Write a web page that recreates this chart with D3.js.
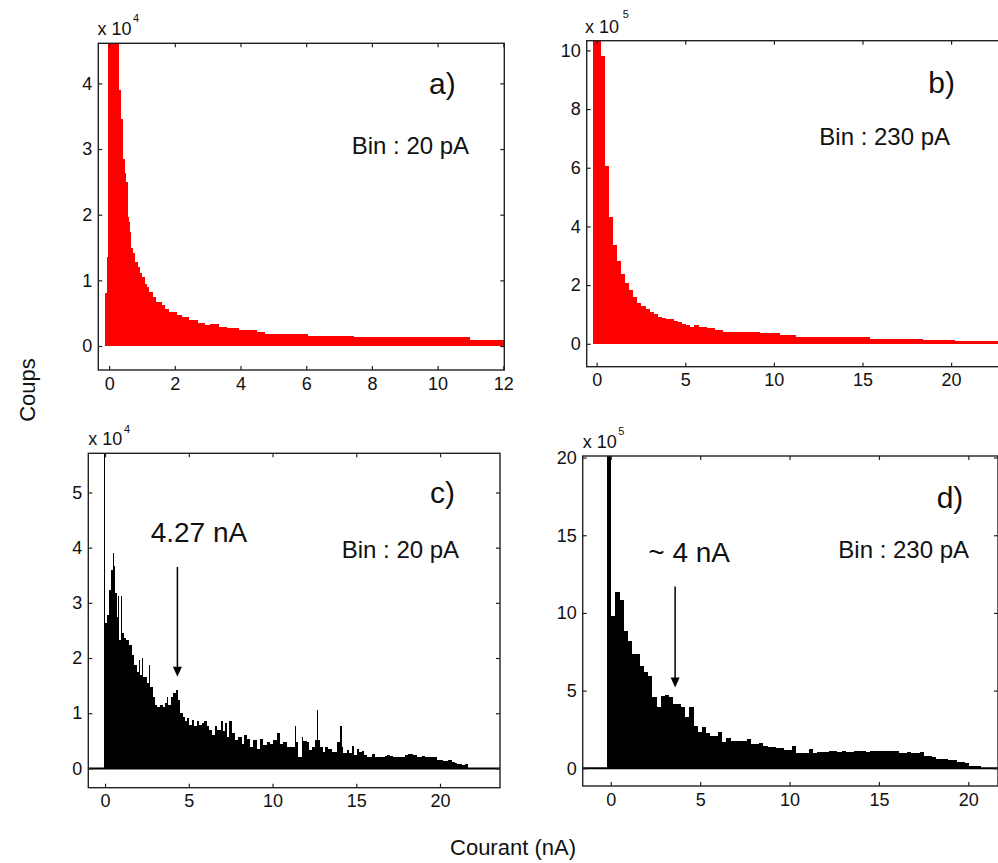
<!DOCTYPE html>
<html><head><meta charset="utf-8">
<script src="https://cdn.jsdelivr.net/npm/d3@7"></script>
<style>
body{margin:0;background:#fff}
text{font-family:"Liberation Sans",Arial,sans-serif;fill:#111}
</style>
</head><body>
<script>
// ---------------- DATA ----------------
// Panel a : bin 20 pA (counts x 1e4), read as steps (edges in nA)
const aEdges = [-0.14,-0.07,-0.04,0.30,0.36,0.41,0.47,0.51,0.56,0.59,0.64,0.67,0.72,0.79,0.87,0.94,1.00,1.08,1.15,1.22,1.35,1.43,1.60,1.70,1.83,2.06,2.21,2.42,2.72,2.92,3.08,3.33,3.58,3.94,4.50,4.75,6.05,7.45,11.0,12.1];
const aCounts = [0.80,1.36,6.0,3.90,3.45,2.85,2.63,2.50,1.97,1.89,1.74,1.49,1.41,1.28,1.21,1.11,1.05,0.95,0.90,0.83,0.75,0.67,0.62,0.57,0.52,0.47,0.44,0.40,0.35,0.32,0.33,0.29,0.27,0.24,0.21,0.18,0.157,0.13,0.09];

// Panel b : bin 230 pA (counts x 1e5)
const bStart = -0.23, bWidth = 0.23;
const bCounts = [12,12,9.8,6.05,4.32,3.37,2.81,2.37,2.08,1.83,
 1.59,1.40,1.28,1.19,1.09,1.00,0.92,0.87,0.85,0.85,
 0.78,0.75,0.69,0.65,0.58,0.64,0.58,0.58,0.53,0.53,
 0.48,0.48,0.41,0.41,0.41,0.41,0.41,0.41,0.41,0.41,
 0.41,0.36,0.36,0.36,0.36,0.36,0.31,0.31,0.31,0.31,
 0.24,0.24,0.24,0.24,0.24,0.24,0.24,0.24,0.24,0.24,
 0.24,0.24,0.24,0.24,0.24,0.24,0.24,0.24,0.18,0.18,
 0.18,0.18,0.18,0.18,0.18,0.18,0.18,0.18,0.18,0.18,
 0.18,0.14,0.14,0.14,0.14,0.14,0.14,0.14,0.14,0.08,
 0.08,0.08,0.08,0.08,0.08,0.08,0.08,0.08,0.08,0.08,
 0.08,0.08,0.08,0.08,0.08,0.08];

// Panel c : bin 20 pA (counts x 1e4), left edges in nA
const cLeft = [-0.06,0.02,0.10,0.26,0.36,0.46,0.54,0.62,0.70,0.80,
 0.86,0.94,1.01,1.13,1.25,1.45,1.59,1.73,1.89,2.01,
 2.09,2.21,2.29,2.49,2.61,2.69,2.85,2.99,3.12,3.28,
 3.44,3.58,3.68,3.78,3.92,4.08,4.24,4.38,4.48,4.64,
 4.78,4.92,5.03,5.17,5.31,5.47,5.63,5.77,5.91,6.07,
 6.23,6.37,6.57,6.71,6.91,7.02,7.16,7.30,7.42,7.58,
 7.76,7.96,8.16,8.30,8.46,8.66,8.86,9.05,9.25,9.45,
 9.65,9.85,10.05,10.25,10.45,10.65,10.85,11.04,11.34,11.40,
 11.54,11.74,11.84,12.04,12.20,12.34,12.54,12.64,12.74,12.84,
 13.00,13.13,13.33,13.53,13.83,14.03,14.13,14.23,14.43,14.59,
 14.73,14.86,15.02,15.18,15.32,15.46,15.62,15.92,16.12,16.72,
 16.82,17.02,17.21,17.91,18.11,18.41,18.61,18.91,19.10,19.70,
 19.80,20.20,20.50,20.70,20.89,20.99,21.29,21.49];
const cEnd = 21.69;
const cCounts = [8,2.63,2.78,3.24,3.60,3.91,3.66,3.18,2.75,3.12,
 2.33,3.12,2.45,2.36,2.33,2.24,2.06,1.88,1.75,1.97,
 1.69,2.00,1.66,1.54,1.88,1.48,1.30,1.15,1.12,1.15,
 1.12,1.18,1.30,1.15,1.30,1.36,1.42,1.24,1.00,0.94,
 0.85,0.91,0.79,0.88,0.76,0.85,0.79,0.83,0.85,0.76,
 0.70,0.60,0.76,0.70,0.85,0.67,0.83,0.57,0.85,0.64,
 0.51,0.57,0.45,0.60,0.54,0.39,0.51,0.36,0.54,0.42,
 0.48,0.45,0.51,0.64,0.45,0.48,0.39,0.39,0.77,0.48,
 0.21,0.57,0.50,0.48,0.33,0.39,0.51,1.06,0.51,0.39,
 0.30,0.38,0.36,0.30,0.47,0.77,0.39,0.27,0.33,0.27,
 0.41,0.24,0.36,0.30,0.32,0.24,0.21,0.26,0.20,0.22,
 0.24,0.22,0.20,0.24,0.26,0.24,0.21,0.23,0.21,0.20,
 0.15,0.13,0.15,0.12,0.09,0.08,0.06,0.08];

// Panel d : bin 230 pA (counts x 1e5)
const dStart = -0.2, dWidth = 0.23;
const dCounts = [25,9.81,11.37,10.84,8.84,8.22,7.34,7.34,6.59,6.22,
 5.94,4.61,3.97,4.66,4.72,4.61,4.12,4.12,3.93,3.33,
 3.97,2.73,2.36,2.68,2.30,2.08,2.08,2.36,1.72,1.97,
 1.76,1.76,1.76,1.76,1.87,1.55,1.55,1.61,1.44,1.35,
 1.35,1.33,1.33,1.18,1.20,1.42,0.97,0.97,0.97,1.22,
 1.00,1.03,1.03,1.03,1.14,1.14,1.07,1.14,1.07,1.07,
 1.14,1.14,1.14,1.07,1.14,1.14,1.14,1.14,1.14,1.14,
 1.14,1.01,1.01,1.07,0.97,0.97,1.03,0.82,0.82,0.70,
 0.60,0.60,0.60,0.52,0.52,0.41,0.41,0.32,0.17,0.17,
 0.17];

// Axes / ticks
const aXTicks = [0,2,4,6,8,10,12], aYTicks = [0,1,2,3,4];
const bXTicks = [0,5,10,15,20],    bYTicks = [0,2,4,6,8,10];
const cXTicks = [0,5,10,15,20],    cYTicks = [0,1,2,3,4,5];
const dXTicks = [0,5,10,15,20],    dYTicks = [0,5,10,15,20];
const aXDomain = [-0.33,12.03], aYDomain = [-0.365,4.61];
const bXDomain = [-0.56,24.0],  bYDomain = [-0.78,10.33];
const cXDomain = [-1.0,23.58],  cYDomain = [-0.35,5.71];
const dXDomain = [-1.57,21.66], dYDomain = [-1.14,20.1];

const panelLabels = ["a)","b)","c)","d)"];
const binLabels = ["Bin : 20 pA","Bin : 230 pA","Bin : 20 pA","Bin : 230 pA"];
const exponents = ["4","5","4","5"];
const peakLabels = [null,null,"4.27 nA","~ 4 nA"];
const arrows = [null,null,{x:4.32,from:3.65,to:1.66},{x:3.6,from:11.7,to:5.2}];
const xTitle = "Courant (nA)", yTitle = "Coups";

// ---------------- DRAW ----------------
const W = 998, H = 863;
const svg = d3.select("body").append("svg").attr("width",W).attr("height",H);

function uniformEdges(start,width,n){ return d3.range(n+1).map(i=>start+i*width); }

const panels = [
 {id:"a", edges:aEdges, counts:aCounts, color:"#ff0000", baseline:false,
  xDomain:aXDomain, yDomain:aYDomain, xTicks:aXTicks, yTicks:aYTicks,
  box:{l:98.3,t:43.3,r:504.3,b:370}, exp:{x:97.5,y:35,sx:133,sy:22},
  lab:{x:429,y:94}, bin:{x:351.7,y:154}},
 {id:"b", edges:uniformEdges(bStart,bWidth,bCounts.length), counts:bCounts, color:"#ff0000", baseline:false,
  xDomain:bXDomain, yDomain:bYDomain, xTicks:bXTicks, yTicks:bYTicks,
  box:{l:586.7,t:40.7,r:1022,b:366.7}, exp:{x:585,y:33.3,sx:622.7,sy:18.3},
  lab:{x:928.3,y:93.3}, bin:{x:819.3,y:145}},
 {id:"c", edges:cLeft.concat([cEnd]), counts:cCounts, color:"#000000", baseline:true,
  xDomain:cXDomain, yDomain:cYDomain, xTicks:cXTicks, yTicks:cYTicks,
  box:{l:88.3,t:453.3,r:500,b:787.7}, exp:{x:88.3,y:445,sx:124,sy:433},
  lab:{x:430,y:503.3}, bin:{x:341.7,y:557.7}, peak:{x:150.7,y:541.7}},
 {id:"d", edges:uniformEdges(dStart,dWidth,dCounts.length), counts:dCounts, color:"#000000", baseline:true,
  xDomain:dXDomain, yDomain:dYDomain, xTicks:dXTicks, yTicks:dYTicks,
  box:{l:582.7,t:456,r:998,b:786}, exp:{x:582.7,y:448.3,sx:618.3,sy:435},
  lab:{x:936.7,y:508.3}, bin:{x:838.3,y:558.3}, peak:{x:648.3,y:561.7}}
];

const defs = svg.append("defs");

panels.forEach((p,pi)=>{
  const g = svg.append("g");
  const x = d3.scaleLinear().domain(p.xDomain).range([p.box.l,p.box.r]);
  const y = d3.scaleLinear().domain(p.yDomain).range([p.box.b,p.box.t]);
  const clipId = "clip-"+p.id;
  defs.append("clipPath").attr("id",clipId).append("rect")
    .attr("x",p.box.l).attr("y",p.box.t)
    .attr("width",p.box.r-p.box.l).attr("height",p.box.b-p.box.t);

  const n = Math.min(p.counts.length, p.edges.length-1);
  const bins = d3.range(n).map(i=>({x0:p.edges[i],x1:p.edges[i+1],v:p.counts[i]}));
  const plot = g.append("g").attr("clip-path",`url(#${clipId})`);
  plot.selectAll("rect").data(bins).join("rect")
    .attr("x",d=>x(d.x0))
    .attr("width",d=>Math.max(1,x(d.x1)-x(d.x0)))
    .attr("y",d=>y(d.v))
    .attr("height",d=>y(0)-y(d.v))
    .attr("fill",p.color)
    .attr("shape-rendering","crispEdges");
  if(p.baseline){
    plot.append("line").attr("x1",p.box.l).attr("x2",p.box.r)
      .attr("y1",y(0)).attr("y2",y(0)).attr("stroke","#000").attr("stroke-width",2);
  }

  // axes (ticks pointing inward on all four sides)
  const tickStyle = sel=>{
    sel.select(".domain").remove();
    sel.selectAll(".tick line").attr("stroke","#222").attr("stroke-width",1.2);
    sel.selectAll(".tick text").style("font-size","18px").attr("fill","#111");
  };
  g.append("g").attr("transform",`translate(0,${p.box.b})`)
    .call(d3.axisBottom(x).tickValues(p.xTicks).tickSize(-4).tickPadding(7).tickFormat(d3.format("d")))
    .call(tickStyle);
  g.append("g").attr("transform",`translate(0,${p.box.t})`)
    .call(d3.axisTop(x).tickValues(p.xTicks).tickSize(-4).tickFormat(""))
    .call(tickStyle);
  g.append("g").attr("transform",`translate(${p.box.l},0)`)
    .call(d3.axisLeft(y).tickValues(p.yTicks).tickSize(-4).tickPadding(6).tickFormat(d3.format("d")))
    .call(tickStyle);
  g.append("g").attr("transform",`translate(${p.box.r},0)`)
    .call(d3.axisRight(y).tickValues(p.yTicks).tickSize(-4).tickFormat(""))
    .call(tickStyle);

  g.append("rect").attr("x",p.box.l).attr("y",p.box.t)
    .attr("width",p.box.r-p.box.l).attr("height",p.box.b-p.box.t)
    .attr("fill","none").attr("stroke","#222").attr("stroke-width",1.4);

  // exponent
  g.append("text").attr("x",p.exp.x).attr("y",p.exp.y).style("font-size","18px").text("x 10");
  g.append("text").attr("x",p.exp.sx).attr("y",p.exp.sy).style("font-size","11px").text(exponents[pi]);

  // labels
  g.append("text").attr("x",p.lab.x).attr("y",p.lab.y).style("font-size","30px").text(panelLabels[pi]);
  g.append("text").attr("x",p.bin.x).attr("y",p.bin.y).style("font-size","24px").text(binLabels[pi]);
  if(peakLabels[pi]){
    g.append("text").attr("x",p.peak.x).attr("y",p.peak.y).style("font-size","28px").text(peakLabels[pi]);
  }
  const ar = arrows[pi];
  if(ar){
    const ax = x(ar.x), y1 = y(ar.from), y2 = y(ar.to);
    g.append("line").attr("x1",ax).attr("x2",ax).attr("y1",y1).attr("y2",y2-8)
      .attr("stroke","#000").attr("stroke-width",1.5);
    g.append("path").attr("d",`M${ax-4.5},${y2-10}L${ax+4.5},${y2-10}L${ax},${y2}Z`).attr("fill","#000");
  }
});

// axis titles
svg.append("text").attr("transform","translate(35,390) rotate(-90)")
  .attr("text-anchor","middle").style("font-size","22px").text(yTitle);
svg.append("text").attr("x",513).attr("y",855)
  .attr("text-anchor","middle").style("font-size","22px").text(xTitle);
</script>
</body></html>
